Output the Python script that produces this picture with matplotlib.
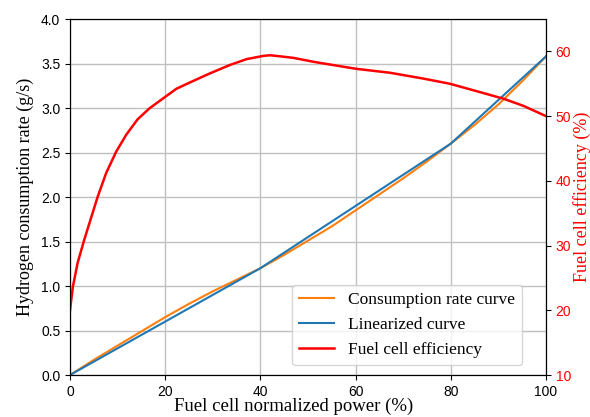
import numpy as np
import matplotlib.pyplot as plt

# hydrogen consumption rate (g/s) vs normalized power (%)
power = [0, 5, 10, 15, 20, 25, 30, 35, 40, 45, 50, 55, 60, 65, 70, 75, 80, 85, 90, 95, 100]
consumption = [0, 0.17, 0.33, 0.49, 0.65, 0.80, 0.94, 1.07, 1.20, 1.35, 1.51, 1.67, 1.85,
               2.03, 2.21, 2.40, 2.60, 2.81, 3.04, 3.30, 3.58]

# piecewise linear approximation
lin_power = [0, 40, 80, 100]
lin_consumption = [0, 1.20, 2.60, 3.58]

# fuel cell efficiency (%)
eff_power = [0, 0.6, 1.6, 3.0, 4.4, 5.8, 7.6, 9.7, 11.8, 14.2, 16.7, 19.5, 22.3, 25.2,
             29.4, 33.6, 37.1, 40.6, 42.0, 43.4, 46.9, 51.1, 56.0, 60.2, 67.2, 74.2,
             79.8, 84.7, 91.0, 95.2, 100]
efficiency = [20.0, 23.6, 27.3, 30.9, 34.2, 37.5, 41.2, 44.5, 47.1, 49.5, 51.2, 52.7, 54.2,
              55.2, 56.6, 57.9, 58.8, 59.3, 59.4, 59.3, 59.0, 58.4, 57.8, 57.3, 56.7, 55.8,
              55.0, 54.0, 52.7, 51.6, 50.0]

serif = ['Liberation Serif', 'DejaVu Serif']
sans = ['Liberation Sans', 'DejaVu Sans']

fig = plt.figure(figsize=(5.9, 4.17), dpi=100)
ax = fig.add_axes([0.1186, 0.1007, 0.8068, 0.8537])
ax2 = ax.twinx()

l1, = ax.plot(power, consumption, color='#ff7f0e', lw=1.5, label='Consumption rate curve')
l2, = ax.plot(lin_power, lin_consumption, color='#1f77b4', lw=1.5, label='Linearized curve')
l3, = ax2.plot(eff_power, efficiency, color='red', lw=1.8, label='Fuel cell efficiency')

ax.set_xlim(0, 100)
ax.set_ylim(0, 4.0)
ax2.set_ylim(10, 65)
ax.set_yticks(np.arange(0, 4.01, 0.5))
ax2.set_yticks([10, 20, 30, 40, 50, 60])
ax.grid(True, color='#c0c0c0', lw=1)

ax.set_yticklabels(['%.1f' % v for v in np.arange(0, 4.01, 0.5)])
for lab in ax.get_xticklabels() + ax.get_yticklabels():
    lab.set_family(sans)
    lab.set_fontsize(10)
for lab in ax2.get_yticklabels():
    lab.set_family(sans)
    lab.set_fontsize(10)
    lab.set_color('red')

ax.set_xlabel('Fuel cell normalized power (%)', family=serif, fontsize=13.5)
ax.xaxis.set_label_coords(0.47, -0.064, transform=ax.transAxes)
ax.xaxis.label.set_va('top')
ax.set_ylabel('Hydrogen consumption rate (g/s)', family=serif, fontsize=13, labelpad=5)
ax2.set_ylabel('Fuel cell efficiency (%)', family=serif, fontsize=13, color='red', labelpad=1)

ax2.legend(handles=[l1, l2, l3], loc='lower right', bbox_to_anchor=(0.9496, 0.028),
           borderaxespad=0, prop={'family': serif, 'size': 12.5})

fig.savefig('out.png', dpi=100)
